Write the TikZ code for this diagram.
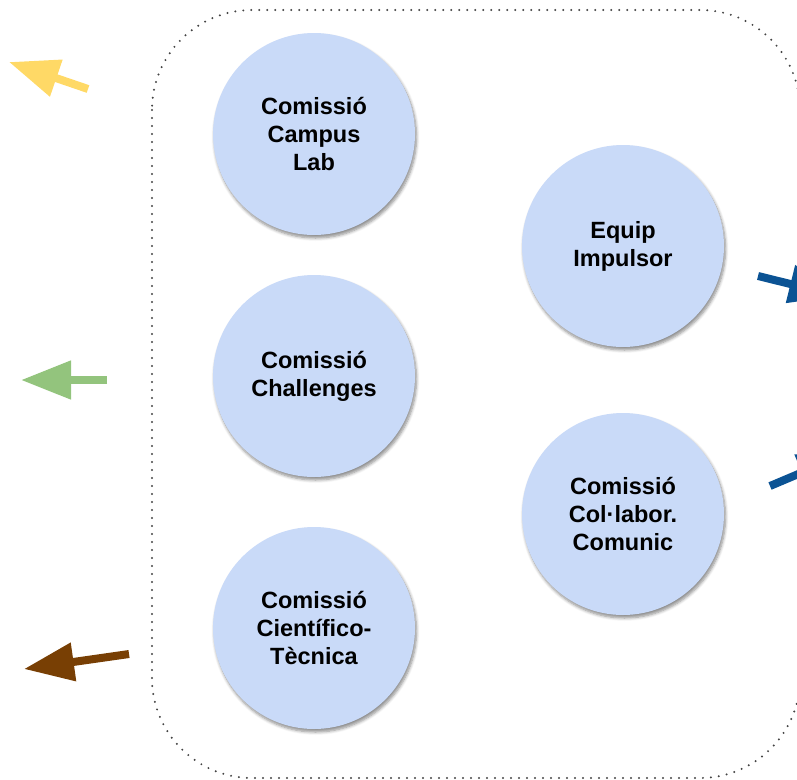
\documentclass[tikz,border=0pt]{standalone}
\usepackage{fontspec}
\setmainfont{Liberation Sans}
\usetikzlibrary{arrows.meta,shadows.blur}
\definecolor{circfill}{HTML}{C9DAF8}
\definecolor{ayellow}{HTML}{FFD966}
\definecolor{agreen}{HTML}{93C47D}
\definecolor{abrown}{HTML}{783F04}
\definecolor{ablue}{HTML}{0B5394}
\definecolor{dotgray}{HTML}{444444}
\tikzset{
  comm/.style={circle, fill=circfill, minimum size=202pt, inner sep=0pt,
    align=center, font=\bfseries\fontsize{23.5}{28}\selectfont,
    blur shadow={shadow xshift=1.5pt, shadow yshift=-3pt, shadow blur steps=6, shadow blur radius=3pt, shadow opacity=45}},
  bigarrow/.style={line width=8pt, -{Triangle[length=50pt,width=37pt]}},
  frame/.style={draw=dotgray, line width=2.2pt, dash pattern=on 0pt off 8pt, line cap=round}
}
\begin{document}
\begin{tikzpicture}[x=1pt,y=-1pt]
\useasboundingbox (0,0) rectangle (797,779);
\clip (0,0) rectangle (797,779);
\draw[frame, rounded corners=100pt] (152,10) rectangle (800,778);
\node[comm] (campus) at (314,134) {Comissió\\Campus\\Lab};
\node[comm] (chall) at (314,376) {Comissió\\Challenges};
\node[comm] (cient) at (314,628) {Comissió\\Científico-\\Tècnica};
\node[comm] (equip) at (623,246) {Equip\\Impulsor};
\node[comm] (colab) at (623,514) {Comissió\\Col·labor.\\Comunic};
\coordinate (y0) at (88,89); \coordinate (y1) at (9,62);
\coordinate (g0) at (107,380); \coordinate (g1) at (21,380);
\coordinate (b0) at (129,654); \coordinate (b1) at (24,669);
\coordinate (u0) at (758,276); \coordinate (u1) at (839,296);
\coordinate (v0) at (770,486); \coordinate (v1) at (848,453);
\draw[bigarrow, ayellow] (y0) -- (y1);
\draw[bigarrow, agreen] (g0) -- (g1);
\draw[bigarrow, abrown] (b0) -- (b1);
\draw[bigarrow, ablue] (u0) -- (u1);
\draw[bigarrow, ablue] (v0) -- (v1);
\end{tikzpicture}
\end{document}
